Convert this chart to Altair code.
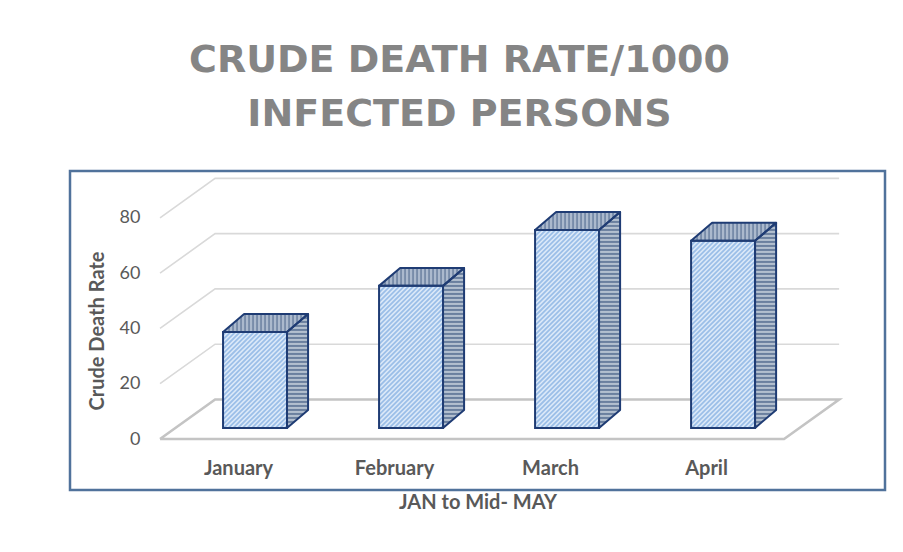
import numpy as np
import pandas as pd
import altair as alt

# ---------------- data ----------------
months = ["January", "February", "March", "April"]
rates = [34.7, 51.4, 71.6, 67.7]
y_ticks = [0, 20, 40, 60, 80]
title_lines = ["CRUDE DEATH RATE/1000", "INFECTED PERSONS"]
y_title = "Crude Death Rate"
x_title = "JAN to Mid- MAY"

# ---------------- layout / 3D projection constants ----------------
W, H = 815, 319
X_DOM = [-1.077, 4.147]          # category units
Y_DOM = [-18.45, 96.96]          # value units
PXU = W / (X_DOM[1] - X_DOM[0])  # px per category unit
PXV = H / (Y_DOM[1] - Y_DOM[0])  # px per value unit

WALL_DX, WALL_DY = 0.353, 14.3   # depth of the floor / back wall
FLOOR_L, FLOOR_R = -0.5, 3.5
BAR_L, BAR_R = -0.096, 0.314     # bar front face relative to category
BAR_BASE = 4.0
BAR_DX, BAR_DY = 0.135, 6.5      # bar depth

OUTLINE = "#1f3c74"
FRONT_FILL, FRONT_HATCH = "#ddeaf9", "#9cbfe8"
SIDE_FILL, SIDE_HATCH = "#b3bfcf", "#6b809f"
TOP_FILL, TOP_HATCH = "#abb9cd", "#768aa8"
GRID = "#d9d9d9"
FLOOR_C = "#c4c4c4"
TEXT = "#595959"
FONT = "Lato"

xs = alt.Scale(domain=X_DOM, nice=False, zero=False)
ys = alt.Scale(domain=Y_DOM, nice=False, zero=False)

label_expr = "[" + ",".join("'%s'" % m for m in months) + "][datum.value]"
X_AX = alt.Axis(
    values=list(range(len(months))), labelExpr=label_expr, offset=-33,
    domain=False, ticks=False, grid=False, labelFont=FONT, labelFontSize=20,
    labelFontWeight="bold", labelColor=TEXT, labelPadding=1,
    title=x_title, titleFont=FONT, titleFontSize=20, titleFontWeight="bold",
    titleColor=TEXT, titlePadding=14)
Y_AX = alt.Axis(
    values=y_ticks, offset=-72, domain=False, ticks=False, grid=False,
    labelFont=FONT, labelFontSize=18, labelColor=TEXT, labelPadding=2,
    title=y_title, titleFont=FONT, titleFontSize=20, titleFontWeight="bold",
    titleColor=TEXT, titlePadding=12)


def X(f):
    return alt.X(f, scale=xs, axis=X_AX)


def Y(f):
    return alt.Y(f, scale=ys, axis=Y_AX)


# ---------------- geometry tables ----------------
floor_pts = [(FLOOR_L, 0), (FLOOR_R, 0), (FLOOR_R + WALL_DX, WALL_DY),
             (FLOOR_L + WALL_DX, WALL_DY), (FLOOR_L, 0)]
floor_df = pd.DataFrame([{"k": k, "x": u, "y": v} for k, (u, v) in enumerate(floor_pts)])

grid_rows = []
for t in y_ticks[1:]:
    pts = [(FLOOR_L, t), (FLOOR_L + WALL_DX, t + WALL_DY), (FLOOR_R + WALL_DX, t + WALL_DY)]
    for k, (u, v) in enumerate(pts):
        grid_rows.append({"t": t, "k": k, "x": u, "y": v})
grid_df = pd.DataFrame(grid_rows)

front_rows, side_rows, top_rows, hatch_rows = [], [], [], []
for i, (m, r) in enumerate(zip(months, rates)):
    xl, xr = i + BAR_L, i + BAR_R
    yb, yt = BAR_BASE, BAR_BASE + r
    front_rows.append({"m": m, "x": xl, "x2": xr, "y": yb, "y2": yt})
    side_rows += [{"m": m, "x": xr, "y": yb, "y2": yt},
                  {"m": m, "x": xr + BAR_DX, "y": yb + BAR_DY, "y2": yt + BAR_DY}]
    top_rows += [{"m": m, "y": yt, "x": xl, "x2": xr},
                 {"m": m, "y": yt + BAR_DY, "x": xl + BAR_DX, "x2": xr + BAR_DX}]

    # hatching, computed in pixel space then mapped back to data units
    wp, hp = (xr - xl) * PXU, r * PXV
    dxp, dyp = BAR_DX * PXU, BAR_DY * PXV
    s = dyp / dxp
    for c in np.arange(-wp + 2.0, hp, 4.7):          # front: "/" stripes
        a, b = max(0.0, -c), min(wp, hp - c)
        if b > a:
            hatch_rows.append({"x": xl + a / PXU, "y": yb + (a + c) / PXV,
                               "x2": xl + b / PXU, "y2": yb + (b + c) / PXV,
                               "c": FRONT_HATCH, "w": 1.8})
    for yy in np.arange(2.0, hp + dyp, 4.0):         # side: horizontal stripes
        a, b = max(0.0, (yy - hp) / s), min(dxp, yy / s)
        if b > a:
            hatch_rows.append({"x": xr + a / PXU, "y": yb + yy / PXV,
                               "x2": xr + b / PXU, "y2": yb + yy / PXV,
                               "c": SIDE_HATCH, "w": 2.0})
    for xx in np.arange(2.0, wp + dxp, 4.0):         # top: vertical stripes
        a, b = max(0.0, (xx - wp) * s), min(dyp, xx * s)
        if b > a:
            hatch_rows.append({"x": xl + xx / PXU, "y": yt + a / PXV,
                               "x2": xl + xx / PXU, "y2": yt + b / PXV,
                               "c": TOP_HATCH, "w": 1.8})

front_df = pd.DataFrame(front_rows)
side_df = pd.DataFrame(side_rows)
top_df = pd.DataFrame(top_rows)
hatch_df = pd.DataFrame(hatch_rows)

# ---------------- layers ----------------
floor = alt.Chart(floor_df).mark_line(color=FLOOR_C, strokeWidth=2.6).encode(
    x=X("x:Q"), y=Y("y:Q"), order="k:Q")

grid = alt.Chart(grid_df).mark_line(color=GRID, strokeWidth=1.6).encode(
    x=X("x:Q"), y=Y("y:Q"), detail="t:N", order="k:Q")

side_fill = alt.Chart(side_df).mark_area(color=SIDE_FILL).encode(
    x=X("x:Q"), y=Y("y:Q"), y2="y2:Q", detail="m:N")
top_fill = alt.Chart(top_df).mark_area(color=TOP_FILL, orient="horizontal").encode(
    y=Y("y:Q"), x=X("x:Q"), x2="x2:Q", detail="m:N")
front_fill = alt.Chart(front_df).mark_rect(color=FRONT_FILL).encode(
    x=X("x:Q"), x2="x2:Q", y=Y("y:Q"), y2="y2:Q")

hatch = alt.Chart(hatch_df).mark_rule(strokeCap="butt").encode(
    x=X("x:Q"), x2="x2:Q", y=Y("y:Q"), y2="y2:Q",
    color=alt.Color("c:N", scale=None),
    strokeWidth=alt.StrokeWidth("w:Q", scale=None))

side_out = alt.Chart(side_df).mark_area(fillOpacity=0, stroke=OUTLINE, strokeWidth=2,
                                        strokeJoin="round").encode(
    x=X("x:Q"), y=Y("y:Q"), y2="y2:Q", detail="m:N")
top_out = alt.Chart(top_df).mark_area(fillOpacity=0, stroke=OUTLINE, strokeWidth=2,
                                      orient="horizontal", strokeJoin="round").encode(
    y=Y("y:Q"), x=X("x:Q"), x2="x2:Q", detail="m:N")
front_out = alt.Chart(front_df).mark_rect(fillOpacity=0, stroke=OUTLINE, strokeWidth=2).encode(
    x=X("x:Q"), x2="x2:Q", y=Y("y:Q"), y2="y2:Q")

chart = alt.layer(
    floor, grid, side_fill, top_fill, front_fill, hatch, side_out, top_out, front_out
).properties(
    width=W, height=H,
    autosize=alt.AutoSizeParams(type="none"),
    padding={"left": 62, "top": 163, "right": 10, "bottom": 54},
    title=alt.TitleParams(text=title_lines, font="DejaVu Sans", fontSize=38, fontWeight="bold",
                          color="#858585", anchor="middle", dx=-18, offset=37,
                          lineHeight=54),
).configure(background="white"
).configure_view(stroke="#50729b", strokeWidth=2.5)

chart.save("out.html", embed_options={"renderer": "svg", "actions": False})
